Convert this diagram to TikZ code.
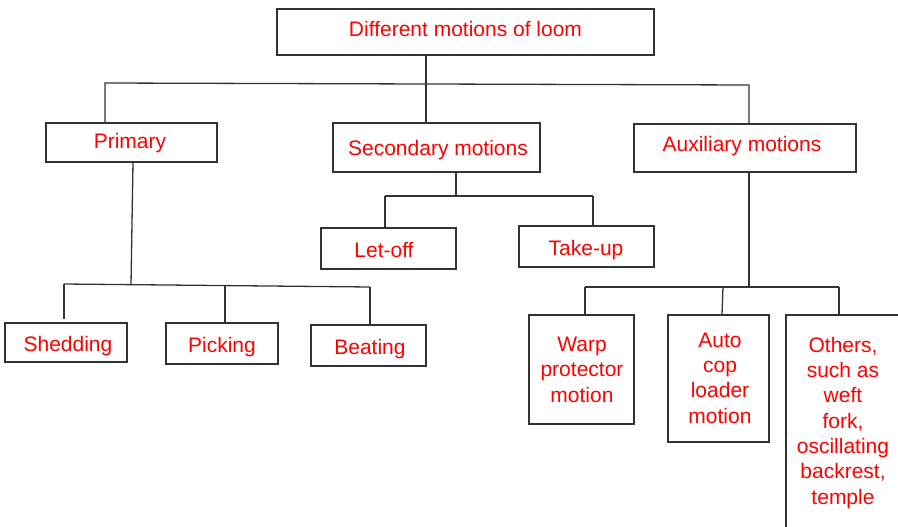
\documentclass[tikz,border=0pt]{standalone}
\usepackage{fontspec}
\setmainfont{Liberation Sans}
\begin{document}
\begin{tikzpicture}[x=1pt,y=-1pt,
  box/.style={draw=black!80,line width=1.3pt,rectangle,inner sep=0pt,fill=white},
  lbl/.style={text=red,font=\fontsize{21}{25.3}\selectfont,inner sep=0pt,anchor=base,align=center},
  conn/.style={draw=black!80,line width=1.3pt}]
\useasboundingbox (0,0) rectangle (898,527);
\clip (0,0) rectangle (898,527);
% boxes
\node[box,minimum width=377pt,minimum height=46pt] (top) at (465.5,32) {};
\node[box,minimum width=171pt,minimum height=39pt] (prim) at (131.5,142.5) {};
\node[box,minimum width=207pt,minimum height=49pt] (sec) at (436.5,147.5) {};
\node[box,minimum width=222pt,minimum height=48pt] (aux) at (745,148) {};
\node[box,minimum width=135pt,minimum height=41pt] (let) at (388.5,248.5) {};
\node[box,minimum width=135pt,minimum height=41pt] (take) at (586.5,246.5) {};
\node[box,minimum width=122pt,minimum height=39pt] (shed) at (66,342.5) {};
\node[box,minimum width=112pt,minimum height=41pt] (pick) at (222,343.5) {};
\node[box,minimum width=115pt,minimum height=41pt] (beat) at (368.5,345.5) {};
\node[box,minimum width=105pt,minimum height=109pt] (warp) at (581.5,369.5) {};
\node[box,minimum width=101pt,minimum height=127pt] (auto) at (718.5,378.5) {};
\node[box,minimum width=130pt,minimum height=240pt] (oth) at (851,435) {};
% texts
\node[lbl] (tTop) at (465.5,37) {Different motions of loom};
\node[lbl] (tPrim) at (130,149) {Primary};
\node[lbl] (tSec) at (438,156) {Secondary motions};
\node[lbl] (tAux) at (742,151) {Auxiliary motions};
\node[lbl] (tLet) at (384,257) {Let-off};
\node[lbl] (tTake) at (586,255) {Take-up};
\node[lbl] (tShed) at (68,351) {Shedding};
\node[lbl] (tPick) at (222,352) {Picking};
\node[lbl] (tBeat) at (370,354) {Beating};
\node[lbl] (tWarp) at (582,402) {Warp\\protector\\motion};
\node[lbl] (tAuto) at (720,423) {Auto\\cop\\loader\\motion};
\node[lbl] (tOth) at (843,504) {Others,\\such as\\weft\\fork,\\oscillating\\backrest,\\temple};
% junction coordinates
\coordinate (j0) at (426,84);
\coordinate (p1) at (105,83);
\coordinate (a1) at (749,85);
\coordinate (ps) at (133,162);
\coordinate (q0) at (131,285);
\coordinate (q1) at (64,284);
\coordinate (q2) at (225,286);
\coordinate (q3) at (370,287);
\coordinate (s0) at (456,196);
\coordinate (s1) at (385,196);
\coordinate (s2) at (593,196);
\coordinate (x0) at (749,287);
\coordinate (x1) at (585,287);
\coordinate (x2) at (723,287);
\coordinate (x3) at (839,287);
% connectors
\draw[conn] (top.south -| j0) -- (j0);
\draw[conn] (prim.north -| p1) -- (p1) -- (a1) -- (aux.north -| a1);
\draw[conn] (j0) -- (sec.north -| j0);
\draw[conn] (ps) -- (q0);
\draw[conn] (q1) -- (q3);
\draw[conn] (q1) -- ++(0,35);
\draw[conn] (q2) -- (pick.north -| q2);
\draw[conn] (q3) -- (beat.north -| q3);
\draw[conn] (sec.south -| s0) -- (s0);
\draw[conn] (s1) -- (s2);
\draw[conn] (s1) -- (let.north -| s1);
\draw[conn] (s2) -- (take.north -| s2);
\draw[conn] (aux.south -| x0) -- (x0);
\draw[conn] (x1) -- (x3);
\draw[conn] (x1) -- (warp.north -| x1);
\draw[conn] (x2) -- (auto.north -| 722,0);
\draw[conn] (x3) -- (oth.north -| x3);
\end{tikzpicture}
\end{document}
